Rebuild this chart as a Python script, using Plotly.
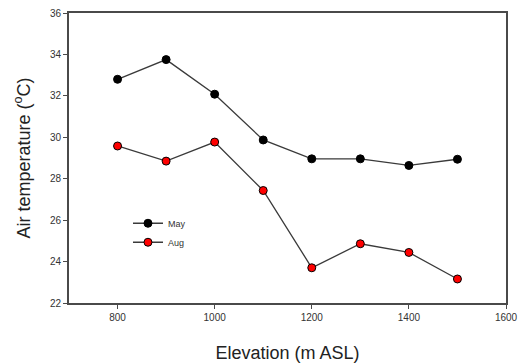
import plotly.graph_objects as go

elevation = [800, 900, 1000, 1100, 1200, 1300, 1400, 1500]
may_temp = [32.8, 33.75, 32.08, 29.87, 28.96, 28.96, 28.64, 28.94]
aug_temp = [29.58, 28.85, 29.77, 27.43, 23.7, 24.86, 24.44, 23.16]
x_ticks = [800, 1000, 1200, 1400, 1600]
y_ticks = [22, 24, 26, 28, 30, 32, 34, 36]

FONT = "Liberation Sans, Arial, sans-serif"

fig = go.Figure()
fig.add_trace(go.Scatter(x=elevation, y=may_temp, name="May", mode="lines+markers",
                         line=dict(color="#3a3a3a", width=1.3),
                         marker=dict(color="black", size=8, line=dict(color="black", width=1))))
fig.add_trace(go.Scatter(x=elevation, y=aug_temp, name="Aug", mode="lines+markers",
                         line=dict(color="#3a3a3a", width=1.3),
                         marker=dict(color="#ff0000", size=8, line=dict(color="black", width=1))))

axis_common = dict(showgrid=False, zeroline=False, showline=True, linecolor="#4a4a4a",
                   linewidth=1.6, mirror=True, ticks="outside", ticklen=4, tickwidth=1,
                   tickcolor="#4a4a4a", automargin=False, ticklabeloverflow="allow",
                   tickfont=dict(family=FONT, size=10, color="#333333"))

fig.update_layout(
    width=519, height=364,
    margin=dict(l=69, r=13, t=13, b=61),
    paper_bgcolor="white", plot_bgcolor="white",
    showlegend=True,
    legend=dict(x=0.135, y=0.325, xanchor="left", yanchor="top",
                bgcolor="rgba(0,0,0,0)", tracegroupgap=0,
                font=dict(family=FONT, size=9, color="#333333"),
                itemwidth=30),
    xaxis=dict(range=[700, 1600], tickvals=x_ticks,
               title=dict(text="Elevation (m ASL)", standoff=25,
                          font=dict(family=FONT, size=18, color="#222222")),
               **axis_common),
    yaxis=dict(range=[22, 36], tickvals=y_ticks,
               title=dict(text="Air temperature (<sup>o</sup>C)", standoff=15,
                          font=dict(family=FONT, size=18, color="#222222")),
               **axis_common),
)

fig.write_html("out.html", config={"displayModeBar": False},
               post_script="document.body.style.margin='0';document.body.style.overflow='hidden';")
